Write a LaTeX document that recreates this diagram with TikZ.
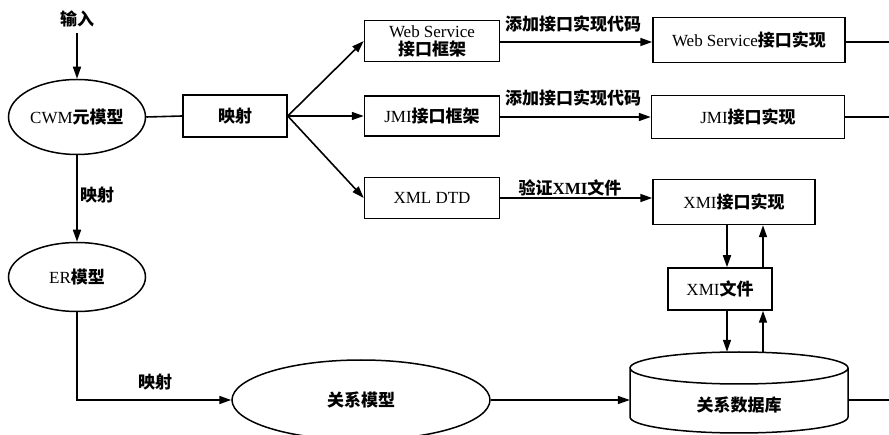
\documentclass[tikz,border=0pt]{standalone}
\usepackage{fontspec}
\setmainfont{Liberation Serif}
\newfontfamily\cjk{Noto Sans CJK SC}
\usetikzlibrary{arrows.meta,shapes.geometric}
\newcommand\zh[1]{{\cjk\bfseries #1}}
\begin{document}
\begin{tikzpicture}[x=1pt,y=-1pt,
  every node/.style={font=\fontsize{17}{21}\selectfont, inner sep=0pt},
  box/.style={draw, line width=1.5pt, rectangle, align=center},
  oval/.style={draw, line width=1.5pt, ellipse},
  lbl/.style={font=\fontsize{17}{21}\selectfont\bfseries},
  conn/.style={line width=1.6pt},
  arr/.style={conn, -{Triangle[length=12pt,width=8pt]}}]
\useasboundingbox (0,0) rectangle (889,435);

% nodes
\node[lbl] (in) at (77,19) {\zh{输入}};
\node[oval, minimum width=137pt, minimum height=75pt] (cwm) at (77,117) {CWM\zh{元模型}};
\node[oval, minimum width=137pt, minimum height=69pt] (er) at (77,277) {ER\zh{模型}};
\node[oval, minimum width=258pt, minimum height=80pt] (rel) at (361,400) {\zh{关系模型}};
\node[box, minimum width=104pt, minimum height=42pt] (map) at (235,116) {\zh{映射}};
\node[box, minimum width=135pt, minimum height=41pt] (wsf) at (432,41) {Web Service\\[-3pt]\zh{接口框架}};
\node[box, minimum width=135pt, minimum height=40pt] (jmif) at (432,116) {JMI\zh{接口框架}};
\node[box, minimum width=135pt, minimum height=41pt] (dtd) at (432,198) {XML DTD};
\node[box, minimum width=192pt, minimum height=45pt] (wsi) at (749,40) {Web Service\zh{接口实现}};
\node[box, minimum width=193pt, minimum height=43pt] (jmii) at (748,117) {JMI\zh{接口实现}};
\node[box, minimum width=162pt, minimum height=45pt] (xmii) at (734,202) {XMI\zh{接口实现}};
\node[box, minimum width=104pt, minimum height=42pt] (xmif) at (720,289) {XMI\zh{文件}};

% cylinder
\draw[line width=1.5pt] (630,368) -- (630,417) arc[start angle=180, end angle=360, x radius=109, y radius=-16]
  -- (848,368) arc[start angle=0, end angle=360, x radius=109, y radius=-16];
\node[minimum width=218pt, minimum height=96pt] (db) at (739,400) {};
\node at (739,405) {\zh{关系数据库}};

% coordinates
\coordinate (e1) at (889,42);
\coordinate (e2) at (889,117);
\coordinate (e3) at (889,400);
\coordinate (bend) at (77,400);

% labels
\node[lbl] (l1) at (97,195) {\zh{映射}};
\node[lbl] (l2) at (155,382) {\zh{映射}};
\node[lbl] (l3) at (573,24) {\zh{添加接口实现代码}};
\node[lbl] (l4) at (573,98) {\zh{添加接口实现代码}};
\node[lbl] (l5) at (570,188) {\zh{验证}XMI\zh{文件}};

% connectors
\draw[arr] (in.south) ++(0,6) -- (cwm.north);
\draw[conn] (cwm.east) -- (map.west);
\draw[arr] (cwm.south) -- (er.north);
\draw[arr] (er.south) -- (bend) -- (rel.west);
\draw[arr] (map.east) -- (wsf.west);
\draw[arr] (map.east) -- (jmif.west);
\draw[arr] (map.east) -- (dtd.west);
\draw[arr] (wsf.east |- e1) -- (wsi.west |- e1);
\draw[arr] (jmif.east |- e2) -- (jmii.west |- e2);
\draw[arr] (dtd.east) -- (dtd.east -| xmii.west);
\draw[conn] (wsi.east |- e1) -- (e1);
\draw[conn] (jmii.east) -- (e2);
\draw[conn] (db.east) -- (e3);
\draw[arr] (rel.east) -- (db.west);
\draw[arr] (xmii.south -| 727,0) -- (xmif.north -| 727,0);
\draw[arr] (xmif.north -| 763,0) -- (xmii.south -| 763,0);
\draw[arr] (xmif.south -| 727,0) -- (db.north -| 727,0);
\draw[arr] (db.north -| 763,0) -- (xmif.south -| 763,0);
\end{tikzpicture}
\end{document}
